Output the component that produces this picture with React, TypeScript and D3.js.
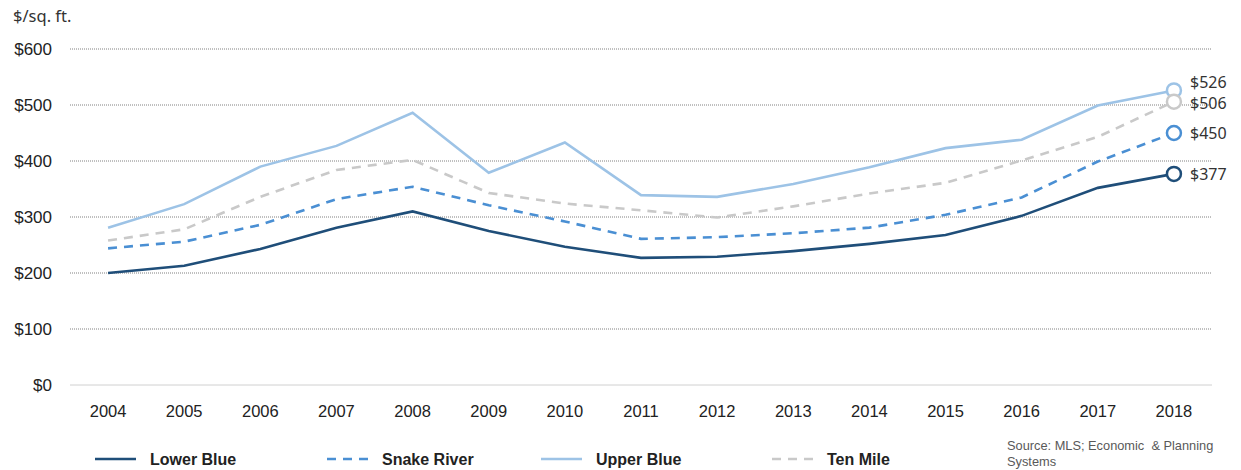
import React from "react";
import * as d3 from "d3";

const years = ["2004","2005","2006","2007","2008","2009","2010","2011","2012","2013","2014","2015","2016","2017","2018"];
const lowerBlue = [200, 213, 243, 281, 310, 275, 247, 227, 229, 239, 252, 268, 302, 352, 377];
const snakeRiver = [244, 256, 286, 332, 354, 321, 292, 261, 264, 271, 281, 304, 335, 399, 450];
const upperBlue = [281, 323, 390, 427, 486, 379, 433, 339, 336, 359, 389, 423, 438, 499, 526];
const tenMile = [258, 278, 336, 384, 402, 343, 324, 312, 299, 319, 342, 361, 401, 443, 506];
const yTicks = [0, 100, 200, 300, 400, 500, 600];
const seriesNames = ["Lower Blue", "Snake River", "Upper Blue", "Ten Mile"];
const endLabels = ["$377", "$450", "$526", "$506"];

const colors = ["#1F4E79", "#4A8FD3", "#9DC3E6", "#C9C9C9"];
const dashes = [null, "9,7", null, "9,7"];
const labelDy = [0, 0, -8, 1];
const legendX = [95, 327, 541, 772];

export default function App() {
  const W = 1241, H = 470;
  const left = 70, right = 1212, top = 49, bottom = 385;
  const x = d3.scalePoint<string>().domain(years).range([left, right]).padding(0.5);
  const y = d3.scaleLinear().domain([0, 600]).range([bottom, top]);
  const data = [lowerBlue, snakeRiver, upperBlue, tenMile];
  const line = d3.line<number>().x((_, i) => x(years[i]) as number).y((d) => y(d));
  const font = "'Liberation Sans', Arial, sans-serif";
  const last = years[years.length - 1];
  const order = [2, 3, 1, 0];
  return (
    <svg width={W} height={H} style={{ position: "absolute", left: 0, top: 0, background: "#fff" }}>
      <text x={13} y={22} fontFamily="'Noto Sans', sans-serif" fontSize={16.5} fill="#333">$/sq. ft.</text>
      {yTicks.map((t) => (
        <g key={t}>
          <line x1={left} x2={right} y1={y(t)} y2={y(t)}
            stroke={t === 0 ? "#D0D0D0" : "#808080"} strokeWidth={1}
            strokeDasharray={t === 0 ? undefined : "1,1"} />
          <text x={52} y={y(t) + 6} textAnchor="end" fontFamily={font} fontSize={17} fill="#222">${t}</text>
        </g>
      ))}
      {years.map((yr) => (
        <text key={yr} x={x(yr)} y={417} textAnchor="middle" fontFamily={font} fontSize={16.5} fill="#222">{yr}</text>
      ))}
      {order.map((si) => (
        <path key={si} d={line(data[si]) || ""} fill="none" stroke={colors[si]} strokeWidth={2.6}
          strokeDasharray={dashes[si] || undefined} />
      ))}
      {order.map((si) => (
        <g key={"m" + si}>
          <circle cx={x(last)} cy={y(data[si][data[si].length - 1])} r={7} fill="#fff" stroke={colors[si]} strokeWidth={2.5} />
          <text x={1190} y={y(data[si][data[si].length - 1]) + 6 + labelDy[si]} fontFamily="'Noto Sans', sans-serif" fontSize={16} fill="#333">{endLabels[si]}</text>
        </g>
      ))}
      {seriesNames.map((n, i) => (
        <g key={n}>
          <line x1={legendX[i]} x2={legendX[i] + 41} y1={459} y2={459} stroke={colors[i]} strokeWidth={2.6}
            strokeDasharray={dashes[i] || undefined} />
          <text x={legendX[i] + 55} y={465} fontFamily="'Liberation Sans Narrow', 'Arial Narrow', sans-serif" fontWeight="bold" fontSize={16} fill="#222">{n}</text>
        </g>
      ))}
      <text x={1007} y={450} fontFamily={font} fontSize={12.8} fill="#595959" style={{ whiteSpace: "pre" }}>{"Source: MLS; Economic  & Planning"}</text>
      <text x={1007} y={466} fontFamily={font} fontSize={12.8} fill="#595959">Systems</text>
    </svg>
  );
}
